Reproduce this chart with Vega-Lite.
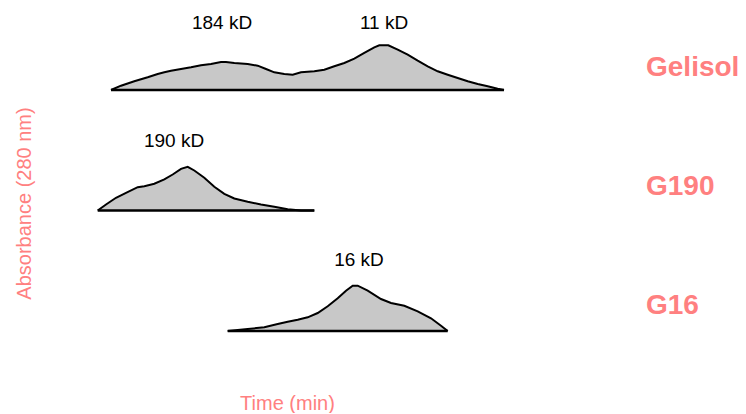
{
  "$schema": "https://vega.github.io/schema/vega-lite/v6.json",
  "autosize": {"type": "pad"},
  "padding": {"left": 14, "top": 10, "right": 0, "bottom": 0},
  "background": "white",
  "config": {"view": {"stroke": null}, "font": "Liberation Sans"},
  "title": {"text": "Absorbance (280 nm)", "orient": "left", "anchor": "middle", "frame": "bounds", "color": "#ff8080", "fontSize": 20, "fontWeight": "normal", "font": "Liberation Sans", "offset": 12, "dx": 8},
  "data": {"values": [
    {"sample": "Gelisol", "kind": "trace", "time": 6.4, "abs": 0},
    {"sample": "Gelisol", "kind": "trace", "time": 7.4, "abs": 0.054},
    {"sample": "Gelisol", "kind": "trace", "time": 8.73, "abs": 0.109},
    {"sample": "Gelisol", "kind": "trace", "time": 10.07, "abs": 0.159},
    {"sample": "Gelisol", "kind": "trace", "time": 11.07, "abs": 0.2},
    {"sample": "Gelisol", "kind": "trace", "time": 11.73, "abs": 0.221},
    {"sample": "Gelisol", "kind": "trace", "time": 12.4, "abs": 0.241},
    {"sample": "Gelisol", "kind": "trace", "time": 13.4, "abs": 0.263},
    {"sample": "Gelisol", "kind": "trace", "time": 14.4, "abs": 0.284},
    {"sample": "Gelisol", "kind": "trace", "time": 15.4, "abs": 0.309},
    {"sample": "Gelisol", "kind": "trace", "time": 16.4, "abs": 0.325},
    {"sample": "Gelisol", "kind": "trace", "time": 17.4, "abs": 0.35},
    {"sample": "Gelisol", "kind": "trace", "time": 17.9, "abs": 0.35},
    {"sample": "Gelisol", "kind": "trace", "time": 18.73, "abs": 0.338},
    {"sample": "Gelisol", "kind": "trace", "time": 20.07, "abs": 0.325},
    {"sample": "Gelisol", "kind": "trace", "time": 21.07, "abs": 0.304},
    {"sample": "Gelisol", "kind": "trace", "time": 21.9, "abs": 0.263},
    {"sample": "Gelisol", "kind": "trace", "time": 22.73, "abs": 0.221},
    {"sample": "Gelisol", "kind": "trace", "time": 23.73, "abs": 0.2},
    {"sample": "Gelisol", "kind": "trace", "time": 24.57, "abs": 0.191},
    {"sample": "Gelisol", "kind": "trace", "time": 25.4, "abs": 0.221},
    {"sample": "Gelisol", "kind": "trace", "time": 26.73, "abs": 0.234},
    {"sample": "Gelisol", "kind": "trace", "time": 27.73, "abs": 0.254},
    {"sample": "Gelisol", "kind": "trace", "time": 28.73, "abs": 0.296},
    {"sample": "Gelisol", "kind": "trace", "time": 29.73, "abs": 0.338},
    {"sample": "Gelisol", "kind": "trace", "time": 30.73, "abs": 0.391},
    {"sample": "Gelisol", "kind": "trace", "time": 31.73, "abs": 0.463},
    {"sample": "Gelisol", "kind": "trace", "time": 32.73, "abs": 0.534},
    {"sample": "Gelisol", "kind": "trace", "time": 33.23, "abs": 0.559},
    {"sample": "Gelisol", "kind": "trace", "time": 34.13, "abs": 0.559},
    {"sample": "Gelisol", "kind": "trace", "time": 35.07, "abs": 0.504},
    {"sample": "Gelisol", "kind": "trace", "time": 36.07, "abs": 0.441},
    {"sample": "Gelisol", "kind": "trace", "time": 37.07, "abs": 0.366},
    {"sample": "Gelisol", "kind": "trace", "time": 38.07, "abs": 0.296},
    {"sample": "Gelisol", "kind": "trace", "time": 39.07, "abs": 0.234},
    {"sample": "Gelisol", "kind": "trace", "time": 40.07, "abs": 0.191},
    {"sample": "Gelisol", "kind": "trace", "time": 41.07, "abs": 0.15},
    {"sample": "Gelisol", "kind": "trace", "time": 42.07, "abs": 0.109},
    {"sample": "Gelisol", "kind": "trace", "time": 43.07, "abs": 0.075},
    {"sample": "Gelisol", "kind": "trace", "time": 44.07, "abs": 0.046},
    {"sample": "Gelisol", "kind": "trace", "time": 45.07, "abs": 0.016},
    {"sample": "Gelisol", "kind": "trace", "time": 45.7, "abs": 0},
    {"sample": "G190", "kind": "trace", "time": 5.07, "abs": 0},
    {"sample": "G190", "kind": "trace", "time": 5.9, "abs": 0.075},
    {"sample": "G190", "kind": "trace", "time": 6.9, "abs": 0.159},
    {"sample": "G190", "kind": "trace", "time": 7.9, "abs": 0.221},
    {"sample": "G190", "kind": "trace", "time": 9.07, "abs": 0.291},
    {"sample": "G190", "kind": "trace", "time": 9.73, "abs": 0.304},
    {"sample": "G190", "kind": "trace", "time": 10.73, "abs": 0.334},
    {"sample": "G190", "kind": "trace", "time": 11.73, "abs": 0.388},
    {"sample": "G190", "kind": "trace", "time": 12.57, "abs": 0.45},
    {"sample": "G190", "kind": "trace", "time": 13.4, "abs": 0.52},
    {"sample": "G190", "kind": "trace", "time": 14.07, "abs": 0.546},
    {"sample": "G190", "kind": "trace", "time": 14.73, "abs": 0.5},
    {"sample": "G190", "kind": "trace", "time": 15.73, "abs": 0.409},
    {"sample": "G190", "kind": "trace", "time": 16.73, "abs": 0.296},
    {"sample": "G190", "kind": "trace", "time": 17.73, "abs": 0.209},
    {"sample": "G190", "kind": "trace", "time": 18.73, "abs": 0.15},
    {"sample": "G190", "kind": "trace", "time": 20.07, "abs": 0.109},
    {"sample": "G190", "kind": "trace", "time": 21.4, "abs": 0.075},
    {"sample": "G190", "kind": "trace", "time": 22.73, "abs": 0.046},
    {"sample": "G190", "kind": "trace", "time": 24.07, "abs": 0.016},
    {"sample": "G190", "kind": "trace", "time": 25.4, "abs": 0},
    {"sample": "G190", "kind": "trace", "time": 26.73, "abs": 0},
    {"sample": "G16", "kind": "trace", "time": 18.07, "abs": 0},
    {"sample": "G16", "kind": "trace", "time": 20.07, "abs": 0.025},
    {"sample": "G16", "kind": "trace", "time": 21.73, "abs": 0.046},
    {"sample": "G16", "kind": "trace", "time": 23.07, "abs": 0.088},
    {"sample": "G16", "kind": "trace", "time": 24.07, "abs": 0.116},
    {"sample": "G16", "kind": "trace", "time": 25.07, "abs": 0.141},
    {"sample": "G16", "kind": "trace", "time": 26.07, "abs": 0.171},
    {"sample": "G16", "kind": "trace", "time": 27.07, "abs": 0.225},
    {"sample": "G16", "kind": "trace", "time": 28.07, "abs": 0.309},
    {"sample": "G16", "kind": "trace", "time": 29.07, "abs": 0.409},
    {"sample": "G16", "kind": "trace", "time": 29.9, "abs": 0.504},
    {"sample": "G16", "kind": "trace", "time": 30.57, "abs": 0.566},
    {"sample": "G16", "kind": "trace", "time": 31.07, "abs": 0.566},
    {"sample": "G16", "kind": "trace", "time": 32.07, "abs": 0.504},
    {"sample": "G16", "kind": "trace", "time": 33.4, "abs": 0.4},
    {"sample": "G16", "kind": "trace", "time": 34.4, "abs": 0.35},
    {"sample": "G16", "kind": "trace", "time": 35.73, "abs": 0.316},
    {"sample": "G16", "kind": "trace", "time": 37.07, "abs": 0.246},
    {"sample": "G16", "kind": "trace", "time": 38.4, "abs": 0.159},
    {"sample": "G16", "kind": "trace", "time": 39.4, "abs": 0.066},
    {"sample": "G16", "kind": "trace", "time": 40.07, "abs": 0},
    {"sample": "Gelisol", "kind": "peak", "time": 17.5, "abs": 0.84, "label": "184 kD"},
    {"sample": "Gelisol", "kind": "peak", "time": 33.7, "abs": 0.84, "label": "11 kD"},
    {"sample": "G190", "kind": "peak", "time": 12.7, "abs": 0.875, "label": "190 kD"},
    {"sample": "G16", "kind": "peak", "time": 31.2, "abs": 0.89, "label": "16 kD"},
    {"sample": "Gelisol", "kind": "name", "time": 59.9, "abs": 0.275, "label": "Gelisol"},
    {"sample": "G190", "kind": "name", "time": 59.9, "abs": 0.29, "label": "G190"},
    {"sample": "G16", "kind": "name", "time": 59.9, "abs": 0.31, "label": "G16"}
  ]},
  "facet": {"row": {"field": "sample", "type": "nominal", "sort": ["Gelisol", "G190", "G16"], "header": {"labels": false, "title": null}}},
  "spacing": {"row": 35.5},
  "spec": {
    "width": 700,
    "height": 80,
    "layer": [
      {
        "transform": [{"filter": "datum.kind === 'trace'"}],
        "mark": {"type": "area", "color": "#c8c8c8", "opacity": 1, "line": {"color": "black", "strokeWidth": 2}},
        "encoding": {
          "x": {"field": "time", "type": "quantitative", "scale": {"domain": [0, 70]},
            "axis": {"title": "Time (min)", "labels": false, "ticks": false, "domain": false, "grid": false,
              "titleColor": "#ff8080", "titleFontSize": 20, "titleFontWeight": "normal", "titleFont": "Liberation Sans",
              "titleX": 240, "titleY": 68, "titleAlign": "center", "titleBaseline": "middle"}},
          "y": {"field": "abs", "type": "quantitative", "scale": {"domain": [0, 1]}, "axis": null}
        }
      },
      {
        "transform": [{"filter": "datum.kind === 'trace'"}],
        "mark": {"type": "rule", "color": "black", "strokeWidth": 2.5},
        "encoding": {
          "x": {"aggregate": "min", "field": "time", "type": "quantitative"},
          "x2": {"aggregate": "max", "field": "time"},
          "y": {"datum": 0, "type": "quantitative"}
        }
      },
      {
        "transform": [{"filter": "datum.kind === 'peak'"}],
        "mark": {"type": "text", "color": "black", "fontSize": 19, "font": "Liberation Sans", "align": "center", "baseline": "middle"},
        "encoding": {
          "x": {"field": "time", "type": "quantitative"},
          "y": {"field": "abs", "type": "quantitative"},
          "text": {"field": "label"}
        }
      },
      {
        "transform": [{"filter": "datum.kind === 'name'"}],
        "mark": {"type": "text", "color": "#ff8080", "fontSize": 28, "fontWeight": "bold", "font": "Liberation Sans", "align": "left", "baseline": "middle"},
        "encoding": {
          "x": {"field": "time", "type": "quantitative"},
          "y": {"field": "abs", "type": "quantitative"},
          "text": {"field": "label"}
        }
      }
    ]
  }
}
